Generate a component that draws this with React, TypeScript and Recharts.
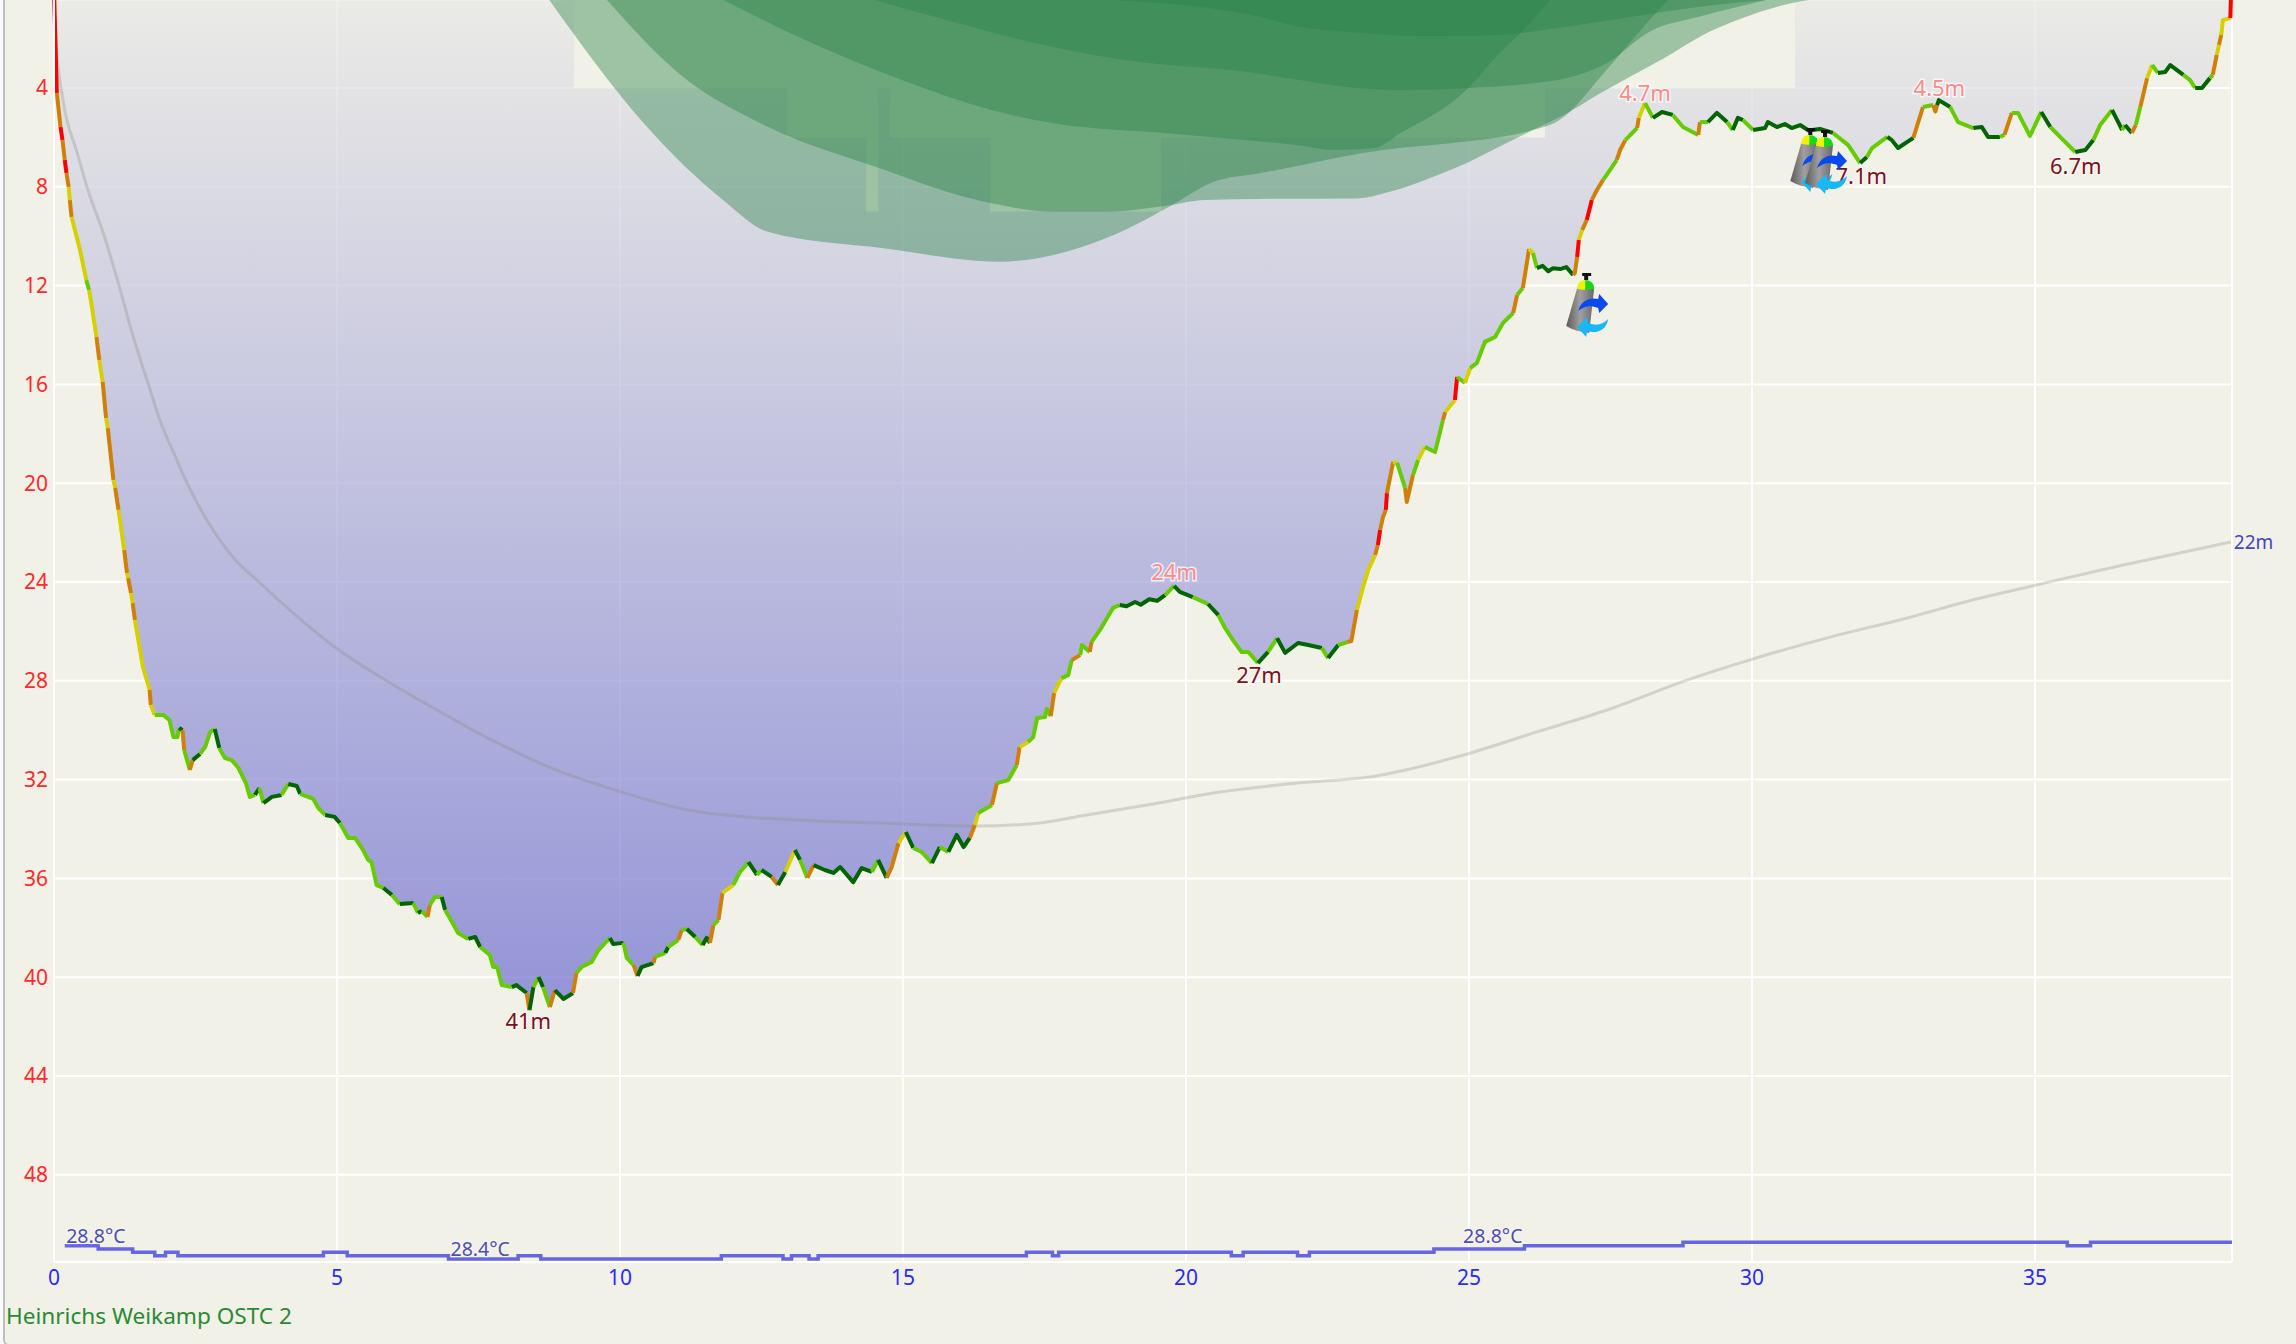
import React from 'react';
import {
  ComposedChart, Area, Line, Scatter, XAxis, YAxis, CartesianGrid, ReferenceDot,
} from 'recharts';

type Row = [number, number, string];
type Pt = [number, number];

// Rate codes: R > O > Y > G > D (fastest to slowest)
const descentLeg: Row[] = [
  [0, 0, 'R'], [0.05, 4.2, 'R'], [0.115, 5.58, 'O'], [0.15, 6.11, 'R'], [0.19, 6.91, 'O'], [0.22, 7.44, 'R'],
  [0.26, 8.01, 'O'], [0.28, 8.54, 'Y'], [0.31, 9.22, 'O'], [0.46, 10.56, 'Y'], [0.57, 11.77, 'Y'], [0.62, 12.18, 'G'],
  [0.65, 12.58, 'Y'], [0.75, 14.08, 'Y'], [0.8, 15.01, 'O'], [0.86, 15.9, 'Y'], [0.92, 17.36, 'O'], [0.95, 17.77, 'Y'],
  [1.05, 19.87, 'O'], [1.08, 20.19, 'Y'], [1.14, 21.08, 'O'], [1.24, 22.7, 'Y'], [1.29, 23.64, 'O'], [1.31, 23.84, 'Y'],
  [1.36, 24.45, 'O'], [1.39, 24.85, 'Y'], [1.43, 25.54, 'O'], [1.57, 27.44, 'Y'], [1.69, 28.37, 'Y'], [1.71, 28.98, 'O'],
  [1.78, 29.38, 'Y'],
];
const firstShelfLeg: Row[] = [
  [1.93, 29.38, 'G'], [2.04, 29.59, 'G'], [2.11, 30.28, 'G'], [2.18, 30.28, 'G'], [2.21, 29.91, 'G'], [2.27, 30.0, 'D'],
  [2.3, 30.8, 'O'], [2.4, 31.61, 'G'], [2.45, 31.21, 'O'], [2.58, 30.96, 'D'], [2.67, 30.68, 'G'], [2.76, 30.07, 'G'],
  [2.84, 29.95, 'G'], [2.92, 30.72, 'D'], [3.02, 31.13, 'G'], [3.14, 31.21, 'G'], [3.26, 31.53, 'G'], [3.39, 32.14, 'G'],
  [3.46, 32.7, 'G'], [3.55, 32.62, 'G'], [3.63, 32.34, 'D'], [3.7, 32.95, 'G'], [3.85, 32.7, 'D'], [4.02, 32.62, 'D'],
  [4.14, 32.18, 'G'], [4.29, 32.26, 'D'], [4.35, 32.58, 'D'], [4.58, 32.78, 'G'], [4.67, 33.15, 'G'], [4.79, 33.43, 'G'],
  [4.96, 33.51, 'D'], [5.05, 33.76, 'D'], [5.2, 34.36, 'G'], [5.32, 34.36, 'G'], [5.46, 34.85, 'G'], [5.55, 35.25, 'G'],
  [5.61, 35.34, 'G'], [5.7, 36.27, 'G'], [5.82, 36.39, 'G'], [5.97, 36.67, 'D'], [6.11, 37.04, 'G'], [6.35, 37.0, 'D'],
  [6.43, 37.4, 'G'], [6.5, 37.32, 'D'], [6.6, 37.56, 'G'], [6.64, 37.08, 'O'], [6.73, 36.75, 'G'], [6.85, 36.75, 'G'],
  [6.91, 37.28, 'D'], [7.03, 37.76, 'G'], [7.14, 38.21, 'G'], [7.32, 38.45, 'G'], [7.44, 38.37, 'D'], [7.53, 38.78, 'D'],
  [7.7, 39.1, 'G'], [7.76, 39.59, 'G'], [7.83, 39.59, 'G'], [7.91, 40.32, 'G'], [8.09, 40.4, 'G'], [8.17, 40.32, 'D'],
];
const deepLeg: Row[] = [
  [8.35, 40.64, 'D'], [8.4, 41.33, 'O'], [8.47, 40.4, 'D'], [8.56, 39.99, 'G'], [8.64, 40.4, 'D'], [8.76, 41.21, 'G'],
  [8.85, 40.52, 'O'], [9.0, 40.88, 'D'], [9.17, 40.64, 'D'], [9.23, 39.83, 'O'], [9.32, 39.59, 'G'], [9.5, 39.38, 'G'],
  [9.62, 38.9, 'G'], [9.82, 38.41, 'G'], [9.88, 38.66, 'D'], [10.06, 38.61, 'D'], [10.12, 39.22, 'G'], [10.24, 39.51, 'G'],
  [10.31, 39.95, 'O'], [10.38, 39.59, 'D'], [10.59, 39.43, 'D'], [10.62, 39.18, 'O'], [10.8, 39.02, 'G'], [10.85, 38.78, 'D'],
  [11.03, 38.49, 'G'], [11.09, 38.09, 'O'], [11.18, 38.05, 'G'], [11.33, 38.37, 'D'], [11.46, 38.7, 'G'], [11.53, 38.41, 'D'],
  [11.59, 38.61, 'D'], [11.65, 37.89, 'O'], [11.74, 37.68, 'G'], [11.81, 36.59, 'O'], [12.0, 36.27, 'Y'], [12.12, 35.74, 'G'],
  [12.27, 35.34, 'G'], [12.42, 35.86, 'D'], [12.5, 35.66, 'G'], [12.68, 35.94, 'D'], [12.79, 36.27, 'O'], [12.92, 35.74, 'D'],
  [13.09, 34.85, 'Y'], [13.18, 35.25, 'D'], [13.31, 35.98, 'G'], [13.42, 35.46, 'O'], [13.62, 35.66, 'D'], [13.77, 35.78, 'D'],
  [13.89, 35.54, 'D'], [14.12, 36.15, 'D'], [14.27, 35.58, 'D'], [14.45, 35.74, 'D'], [14.56, 35.25, 'G'], [14.71, 35.98, 'D'],
  [14.8, 35.54, 'O'], [14.92, 34.57, 'O'], [15.05, 34.12, 'Y'], [15.18, 34.77, 'D'], [15.33, 34.93, 'G'], [15.51, 35.38, 'G'],
  [15.65, 34.73, 'D'], [15.8, 34.93, 'G'], [15.95, 34.24, 'D'], [16.07, 34.73, 'D'], [16.18, 34.36, 'D'],
];
const midAscentLeg: Row[] = [
  [16.27, 33.84, 'O'], [16.33, 33.35, 'Y'], [16.57, 33.03, 'G'], [16.66, 32.14, 'O'], [16.86, 32.02, 'G'], [17.01, 31.41, 'G'],
  [17.06, 30.68, 'O'], [17.21, 30.48, 'Y'], [17.3, 30.28, 'G'], [17.37, 29.51, 'G'], [17.51, 29.47, 'G'], [17.54, 29.14, 'G'],
  [17.61, 29.43, 'G'], [17.67, 28.49, 'O'], [17.8, 27.89, 'Y'], [17.92, 27.77, 'G'], [17.98, 27.16, 'G'], [18.13, 26.96, 'O'],
  [18.16, 26.55, 'G'], [18.3, 26.83, 'G'], [18.33, 26.43, 'O'], [18.48, 25.94, 'G'], [18.71, 25.05, 'G'], [18.83, 24.93, 'G'],
  [18.95, 24.98, 'D'], [19.1, 24.81, 'D'], [19.2, 24.92, 'D'], [19.35, 24.7, 'D'], [19.49, 24.76, 'D'], [19.63, 24.53, 'D'],
  [19.79, 24.16, 'G'], [19.89, 24.4, 'D'], [20.12, 24.61, 'D'],
  [20.39, 24.89, 'G'], [20.57, 25.34, 'D'], [20.69, 25.86, 'G'], [20.83, 26.35, 'G'], [20.98, 26.83, 'G'], [21.1, 26.83, 'G'],
  [21.27, 27.28, 'G'], [21.45, 26.83, 'D'], [21.61, 26.27, 'G'], [21.75, 26.87, 'D'], [21.98, 26.47, 'D'], [22.16, 26.55, 'D'],
  [22.4, 26.67, 'D'], [22.51, 27.08, 'G'], [22.69, 26.55, 'D'], [22.85, 26.43, 'G'], [22.92, 26.39, 'O'],
];
const ascentLeg: Row[] = [
  [23.02, 25.13, 'O'], [23.13, 24.2, 'Y'], [23.22, 23.51, 'Y'], [23.34, 22.91, 'Y'], [23.39, 22.5, 'O'], [23.43, 21.89, 'R'],
  [23.48, 21.37, 'O'], [23.53, 21.08, 'O'], [23.55, 20.4, 'R'], [23.66, 19.14, 'O'], [23.73, 19.18, 'Y'], [23.87, 20.19, 'G'],
  [23.9, 20.76, 'O'], [24.01, 19.67, 'O'], [24.1, 19.06, 'G'], [24.22, 18.53, 'Y'], [24.4, 18.74, 'G'], [24.54, 17.44, 'G'],
  [24.58, 17.12, 'O'], [24.75, 16.63, 'Y'], [24.79, 15.7, 'R'], [24.93, 15.94, 'G'], [25.02, 15.34, 'Y'], [25.14, 15.13, 'G'],
  [25.28, 14.28, 'G'], [25.46, 14.08, 'G'], [25.6, 13.51, 'G'], [25.78, 13.11, 'G'], [25.85, 12.38, 'O'], [25.95, 12.1, 'G'],
  [26.01, 11.25, 'O'], [26.06, 10.52, 'O'], [26.13, 10.68, 'Y'], [26.2, 11.29, 'G'], [26.3, 11.2, 'D'], [26.4, 11.42, 'D'], [26.48, 11.3, 'D'], [26.61, 11.33, 'D'],
  [26.72, 11.25, 'D'], [26.84, 11.57, 'D'], [26.87, 11.49, 'O'], [26.91, 10.84, 'O'], [26.94, 10.15, 'R'], [27.0, 9.75, 'Y'], [27.08, 9.34, 'O'],
  [27.17, 8.53, 'R'], [27.26, 8.13, 'O'], [27.37, 7.72, 'O'], [27.49, 7.32, 'G'], [27.61, 6.91, 'G'], [27.67, 6.51, 'O'],
  [27.76, 6.11, 'O'], [27.97, 5.62, 'G'], [28.0, 5.21, 'O'], [28.11, 4.61, 'Y'],
];
const safetyLeg: Row[] = [
  [28.25, 5.21, 'G'], [28.41, 4.97, 'D'], [28.6, 5.09, 'D'], [28.78, 5.58, 'G'], [29.05, 5.9, 'G'], [29.08, 5.38, 'O'],
  [29.22, 5.38, 'G'], [29.38, 5.01, 'D'], [29.56, 5.38, 'D'], [29.66, 5.7, 'G'], [29.75, 5.21, 'D'], [29.84, 5.3, 'D'],
  [30.02, 5.7, 'G'], [30.23, 5.62, 'D'], [30.28, 5.38, 'D'], [30.44, 5.58, 'D'], [30.58, 5.46, 'D'], [30.7, 5.62, 'D'], [30.85, 5.5, 'D'], [31.0, 5.72, 'D'], [31.2, 5.66, 'D'],
  [31.43, 5.82, 'D'], [31.7, 6.31, 'G'], [31.91, 7.04, 'G'], [32.03, 6.79, 'D'], [32.12, 6.43, 'G'], [32.39, 5.98, 'G'],
  [32.47, 6.11, 'D'], [32.58, 6.43, 'D'], [32.85, 6.02, 'D'], [33.02, 4.77, 'O'], [33.2, 4.69, 'G'], [33.24, 4.95, 'O'],
  [33.27, 4.69, 'O'], [33.3, 4.49, 'D'], [33.5, 4.77, 'D'], [33.64, 5.38, 'G'], [33.91, 5.62, 'G'], [34.06, 5.58, 'D'],
  [34.17, 5.98, 'D'], [34.38, 5.98, 'D'], [34.46, 5.9, 'G'], [34.59, 5.01, 'O'], [34.7, 5.01, 'G'], [34.91, 5.94, 'G'],
  [35.11, 4.97, 'G'], [35.27, 5.58, 'D'], [35.5, 6.11, 'G'], [35.71, 6.59, 'G'], [35.89, 6.51, 'D'], [36.03, 6.11, 'D'],
  [36.15, 5.5, 'G'], [36.36, 4.89, 'G'], [36.47, 5.38, 'D'], [36.54, 5.7, 'D'], [36.59, 5.5, 'G'], [36.71, 5.82, 'D'],
  [36.78, 5.5, 'O'], [36.86, 4.77, 'G'], [36.91, 4.28, 'O'], [36.98, 3.6, 'O'], [37.07, 3.07, 'Y'], [37.17, 3.39, 'G'],
  [37.3, 3.35, 'D'], [37.39, 3.07, 'D'], [37.62, 3.47, 'D'], [37.74, 3.68, 'G'], [37.83, 4.0, 'G'], [37.95, 4.0, 'D'],
  [38.09, 3.6, 'D'], [38.14, 3.47, 'G'], [38.21, 2.66, 'O'], [38.25, 2.26, 'Y'], [38.29, 1.85, 'O'], [38.32, 1.25, 'Y'],
  [38.45, 1.17, 'Y'], [38.46, 0.44, 'R'], [38.47, 0, 'R'],
];

const meanDepth: Pt[] = [
  [0, 0], [0.02, 1.77], [0.16, 4.49], [0.41, 6.63], [0.6, 8.13], [0.87, 9.87], [1.22, 12.58], [1.38, 13.92], [1.66, 15.94],
  [1.87, 17.44], [2.17, 19.06], [2.35, 19.99], [2.7, 21.49], [3.16, 22.99], [3.64, 24.04], [4.96, 26.63], [6.06, 28.25],
  [6.82, 29.25], [7.65, 30.3], [8.23, 30.95], [8.62, 31.37], [9.91, 32.42], [11.2, 33.23], [12.24, 33.51], [13.53, 33.68],
  [14.59, 33.76], [16.24, 33.88], [17.24, 33.8], [18.25, 33.43], [19.31, 33.03], [20.48, 32.54], [21.96, 32.14], [23.36, 31.85],
  [24.91, 31.0], [26.2, 30.07], [27.49, 29.14], [28.8, 28.01], [29.95, 27.16], [31.38, 26.23], [32.67, 25.5], [33.96, 24.69],
  [34.95, 24.16], [36.56, 23.31], [38.46, 22.38],
];

const stepCeiling: Pt[] = [
  [9.19, 4], [12.95, 6], [14.35, 9], [14.56, 4], [14.77, 6], [16.54, 9], [19.56, 6], [26.34, 4], [30.76, 4],
];

const tissueA: Pt[] = [
  [8.75, 0.44], [9.93, 4.08], [10.44, 5.48], [11.82, 8.53], [12.61, 9.82], [14.66, 10.49], [16.71, 11.03], [17.66, 10.76],
  [18.92, 9.75], [19.71, 8.8], [20.5, 7.79], [21.29, 7.45], [22.01, 7.14], [22.6, 6.85], [23.48, 6.51], [24.95, 6.17],
  [26.01, 5.77], [26.6, 5.3], [27.43, 3.27], [28.19, 1.25], [28.52, 0.44],
];
const tissueB: Pt[] = [
  [9.77, 0.44], [11.04, 3.41], [12.61, 5.57], [14.51, 7.19], [16.56, 8.67], [17.66, 9.01], [18.61, 9.01], [19.55, 8.8],
  [20.34, 8.53], [21.29, 8.49], [23.01, 8.47], [23.6, 8.2], [24.37, 7.59], [24.95, 7.05], [25.54, 6.37], [26.13, 5.7],
  [26.72, 5.03], [27.31, 4.22], [27.9, 3.47], [28.49, 2.73], [29.08, 1.92], [29.67, 1.31], [30.25, 0.84], [30.84, 0.5], [31.2, 0.37],
];
const tissueC: Pt[] = [
  [11.82, 0.44], [13.4, 2.19], [14.98, 3.68], [16.56, 4.89], [17.66, 5.43], [19.71, 5.84], [22.01, 6.33], [22.6, 6.51],
  [23.31, 6.44], [23.78, 5.84], [24.95, 4.08], [25.48, 2.73], [25.96, 1.65], [26.43, 0.44],
];
const tissueD: Pt[] = [
  [14.51, 0.44], [15.77, 1.25], [17.35, 2.19], [18.92, 2.87], [21.29, 3.41], [22.01, 3.68], [22.89, 3.97], [23.78, 4.08],
  [24.95, 4.01], [26.13, 3.81], [26.72, 3.61], [27.43, 3.0], [28.19, 1.72], [29.08, 1.11], [30.25, 0.44],
];
const tissueE: Pt[] = [
  [18.77, 0.44], [21.29, 1.11], [22.01, 1.52], [22.89, 1.72], [24.07, 1.89], [24.95, 1.88], [25.84, 1.79], [26.72, 1.52],
  [27.9, 1.11], [29.08, 0.71], [30.25, 0.44],
];

const temperature: Pt[] = [
  [0.19, 28.8], [0.78, 28.7], [1.39, 28.6], [1.78, 28.5], [1.97, 28.6], [2.19, 28.5], [4.76, 28.6], [5.18, 28.5], [6.97, 28.4],
  [8.2, 28.5], [8.6, 28.4], [11.79, 28.5], [12.88, 28.4], [13.03, 28.5], [13.34, 28.4], [13.5, 28.5], [17.18, 28.6], [17.64, 28.5],
  [17.75, 28.6], [20.8, 28.5], [21.01, 28.6], [21.97, 28.5], [22.18, 28.6], [24.38, 28.7], [25.98, 28.8], [28.78, 28.9],
  [35.57, 28.8], [35.98, 28.9], [38.48, 28.9],
];
const tempLabels = [
  { t: 0.74, v: 28.8, text: '28.8°C' },
  { t: 7.53, v: 28.4, text: '28.4°C' },
  { t: 25.42, v: 28.8, text: '28.8°C' },
];

const maxLabels = [
  { t: 8.38, d: 41.77, text: '41m' }, { t: 21.29, d: 27.77, text: '27m' },
  { t: 31.93, d: 7.56, text: '7.1m' }, { t: 35.72, d: 7.16, text: '6.7m' },
];
const minLabels = [
  { t: 19.79, d: 23.6, text: '24m' }, { t: 28.11, d: 4.2, text: '4.7m' }, { t: 33.31, d: 4.0, text: '4.5m' },
];
const gasChanges = [
  { t: 27.07, d: 11.49 }, { t: 31.03, d: 5.62 }, { t: 31.29, d: 5.7 },
];

const xTicks = [0, 5, 10, 15, 20, 25, 30, 35];
const yTicks = [4, 8, 12, 16, 20, 24, 28, 32, 36, 40, 44, 48];
const DEPTH_DOMAIN: [number, number] = [0.437, 51.53];
const TEMP_DOMAIN: [number, number] = [28.31, 66.21];
const TIME_DOMAIN: [number, number] = [0, 38.48];
const meanLabel = '22m';
const deviceName = 'Heinrichs Weikamp OSTC 2';

const RATE_COLORS: Record<string, string> = {
  R: '#FF0000', O: '#D08008', Y: '#D6D000', G: '#66CC00', D: '#006400',
};
const FONT = '"Noto Sans", sans-serif';
const BG = '#F2F1E7';

const profile: Row[] = [...descentLeg, ...firstShelfLeg, ...deepLeg, ...midAscentLeg, ...ascentLeg, ...safetyLeg];
const profileData = profile.map(([t, d]) => ({ t, d }));
const toData = (p: Pt[]) => p.map(([t, d]) => ({ t, d }));

// Split the profile into runs of one rate colour, each starting at the previous sample.
const runs: { color: string; data: { t: number; d: number }[] }[] = [];
for (let i = 1; i < profile.length; i++) {
  const c = profile[i][2];
  const point = { t: profile[i][0], d: profile[i][1] };
  const last = runs[runs.length - 1];
  if (last && last.color === c) last.data.push(point);
  else runs.push({ color: c, data: [{ t: profile[i - 1][0], d: profile[i - 1][1] }, point] });
}

const TankShape = (props: any) => {
  const { cx, cy } = props;
  return (
    <g transform={`translate(${cx},${cy})`}>
      <path d="M-9,15 L8,15 L3,60 C-6,59 -13,57 -20,53 Z" fill="url(#tankBody)" />
      <path d="M-9,16 C-9,9 -5,7 -1,7 L-1,17 Z" fill="#F2F200" />
      <path d="M-1,7 C4,7 8,10 8,16 L-1,17 Z" fill="#18D818" />
      <path d="M-4,0 L5,0 L5,3 L2,3 L2,7 L-2,7 L-2,3 L-4,3 Z" fill="#111" />
      <path d="M-8,38 C-5,27 4,24 12,26 L13,21 L22,31 L13,40 L12,35 C4,32 -2,33 -8,38 Z" fill="#0A48F0" />
      <path d="M22,46 C20,58 10,61 1,58 L0,64 L-9,54 L1,44 L2,50 C10,53 16,52 22,46 Z" fill="#18B8F8" />
    </g>
  );
};

const labelShape = (fill: string, halo: string, size: number, dy: number) => (props: any) => (
  <text
    x={props.cx}
    y={props.cy + dy}
    textAnchor="middle"
    fontFamily={FONT}
    fontSize={size}
    fill={fill}
    stroke={halo}
    strokeWidth={3}
    paintOrder="stroke"
  >
    {props.payload.text}
  </text>
);

export default function App() {
  return (
    <div style={{ position: 'absolute', left: 0, top: 0, width: 2296, height: 1344, overflow: 'hidden', background: '#FAFAFA' }}>
      <div
        style={{
          position: 'absolute', left: 3, top: -10, width: 2310, height: 1352, background: BG,
          border: '2px solid #BDBDBD', borderRadius: 6,
        }}
      />
      <div style={{ position: 'absolute', left: 0, top: 0 }}>
        <ComposedChart width={2296} height={1344} margin={{ top: 0, right: 64, bottom: 0, left: 0 }}>
          <defs>
            <linearGradient id="diveFill" x1="0" y1="0" x2="0" y2="1">
              <stop offset="0" stopColor="#E9E9E6" stopOpacity={0.7} />
              <stop offset="1" stopColor="#6C6CD1" stopOpacity={0.7} />
            </linearGradient>
            <linearGradient id="tankBody" x1="0" y1="0" x2="1" y2="0">
              <stop offset="0" stopColor="#5A5A5A" />
              <stop offset="0.5" stopColor="#A0A0A0" />
              <stop offset="1" stopColor="#686868" />
            </linearGradient>
          </defs>
          <CartesianGrid stroke="#FFFFFF" strokeWidth={2} />
          <XAxis
            type="number"
            dataKey="t"
            domain={TIME_DOMAIN}
            ticks={xTicks}
            height={82}
            interval={0}
            tickLine={false}
            axisLine={{ stroke: '#FFFFFF', strokeWidth: 2 }}
            tick={{ fill: '#2A2AFF', fontSize: 21, fontFamily: FONT }}
          />
          <YAxis
            type="number"
            dataKey="d"
            reversed
            domain={DEPTH_DOMAIN}
            allowDataOverflow
            ticks={yTicks}
            width={54}
            interval={0}
            tickMargin={0}
            tickLine={false}
            axisLine={{ stroke: '#FFFFFF', strokeWidth: 2 }}
            tick={{ fill: '#FF2A2A', fontSize: 21, fontFamily: FONT }}
          />
          <YAxis yAxisId="temp" type="number" dataKey="v" hide domain={TEMP_DOMAIN} allowDataOverflow />

          <Area data={profileData} dataKey="d" type="linear" baseValue={DEPTH_DOMAIN[0]} stroke="none" fill="url(#diveFill)" fillOpacity={1} isAnimationActive={false} />
          <Area data={toData(stepCeiling)} dataKey="d" type="stepAfter" baseValue={DEPTH_DOMAIN[0]} stroke="none" fill={BG} fillOpacity={1} isAnimationActive={false} />
          {[tissueA, tissueB, tissueC, tissueD, tissueE].map((tissue, i) => (
            <Area
              key={`tissue${i}`}
              data={toData(tissue)}
              dataKey="d"
              type="monotone"
              baseValue={DEPTH_DOMAIN[0]}
              stroke="none"
              fill="#2C8448"
              fillOpacity={0.42}
              isAnimationActive={false}
            />
          ))}

          <Line data={toData(meanDepth)} dataKey="d" type="monotone" stroke="#8C8C80" strokeOpacity={0.3} strokeWidth={3} dot={false} isAnimationActive={false} />

          {runs.map((run, i) => (
            <Line
              key={`run${i}`}
              data={run.data}
              dataKey="d"
              type="linear"
              stroke={RATE_COLORS[run.color]}
              strokeWidth={4}
              strokeLinejoin="round"
              dot={false}
              isAnimationActive={false}
            />
          ))}

          <Line
            yAxisId="temp"
            data={temperature.map(([t, v]) => ({ t, v }))}
            dataKey="v"
            type="stepAfter"
            stroke="#6666E0"
            strokeWidth={3.5}
            dot={false}
            isAnimationActive={false}
          />

          <Scatter data={maxLabels} shape={labelShape('#7E1020', 'rgba(255,255,255,0.45)', 22, 8)} isAnimationActive={false} />
          <Scatter data={minLabels} shape={labelShape('#FF8A8A', 'rgba(255,255,255,0.75)', 22, 8)} isAnimationActive={false} />
          <Scatter yAxisId="temp" data={tempLabels} shape={labelShape('#4E4EB4', 'rgba(255,255,255,0.3)', 19.5, -3)} isAnimationActive={false} />
          <Scatter data={gasChanges} shape={TankShape} isAnimationActive={false} />

          <ReferenceDot
            x={meanDepth[meanDepth.length - 1][0]}
            y={meanDepth[meanDepth.length - 1][1]}
            r={0}
            stroke="none"
            ifOverflow="visible"
            label={{ value: meanLabel, position: 'right', offset: 3, fill: '#4444C4', fontSize: 19, fontFamily: FONT }}
          />
        </ComposedChart>
      </div>
      <div
        style={{
          position: 'absolute', left: 6, top: 1303, fontFamily: FONT, fontSize: 22.6, lineHeight: '26px',
          color: '#2A8A34', whiteSpace: 'nowrap',
        }}
      >
        {deviceName}
      </div>
    </div>
  );
}
